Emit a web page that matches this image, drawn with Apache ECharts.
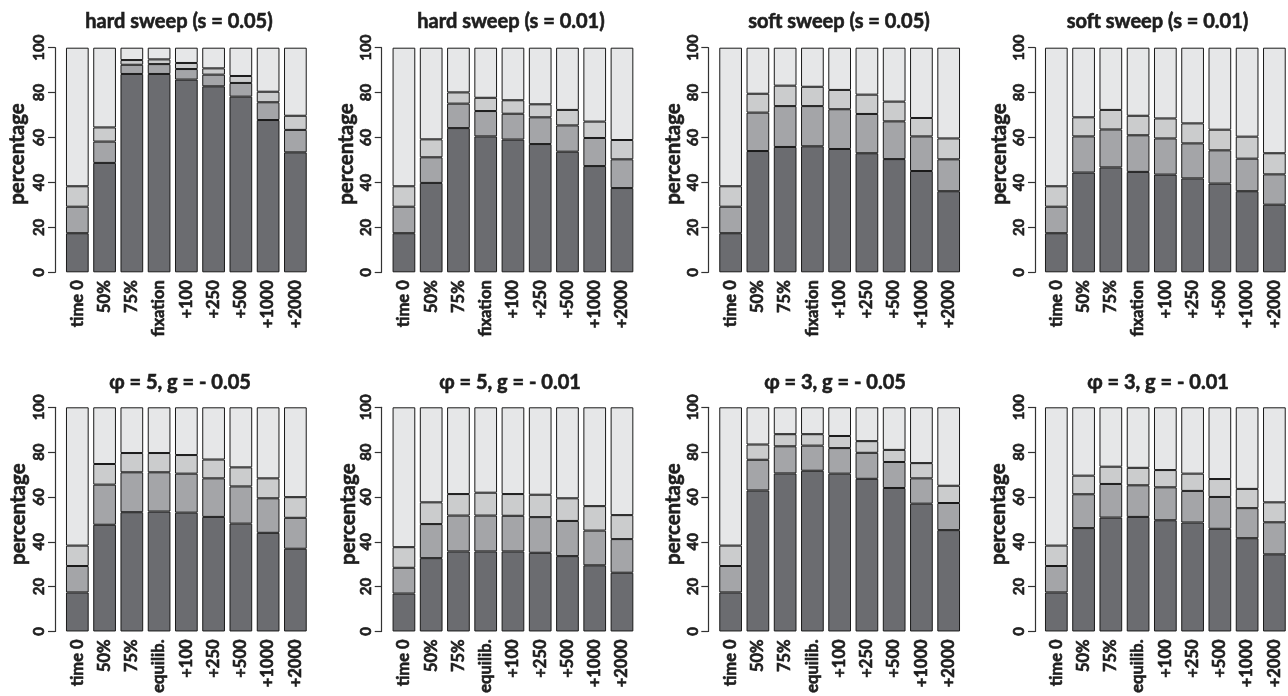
<!DOCTYPE html>
<html>
<head>
<meta charset="utf-8">
<script src="https://cdn.jsdelivr.net/npm/echarts@6/dist/echarts.min.js"></script>
<style>
html,body{margin:0;padding:0;background:#fff;}
#chart{width:1288px;height:696px;}
</style>
</head>
<body>
<div id="chart"></div>
<script>
// ---- categories ----
const catsTop = ['time 0','50%','75%','fixation','+100','+250','+500','+1000','+2000'];
const catsBottom = ['time 0','50%','75%','equilib.','+100','+250','+500','+1000','+2000'];
const yTicks = [0,20,40,60,80,100];

// ---- panel titles ----
const titles = ['hard sweep (s = 0.05)','hard sweep (s = 0.01)','soft sweep (s = 0.05)','soft sweep (s = 0.01)',
                'φ = 5, g = - 0.05','φ = 5, g = - 0.01','φ = 3, g = - 0.05','φ = 3, g = - 0.01'];

// ---- segment values (bottom to top: dark, medium, light, lightest) ----
const p1Dark  = [17.4, 48.7, 88.3, 88.3, 85.8, 82.8, 78.2, 67.8, 53.4];
const p1Med   = [11.8, 9.5, 4.1, 4.4, 4.7, 5.2, 6.1, 7.9, 10.0];
const p1Light = [9.1, 6.3, 2.1, 2.1, 2.7, 2.8, 3.1, 4.7, 6.3];
const p1Top   = [61.7, 35.5, 5.5, 5.2, 6.8, 9.2, 12.6, 19.6, 30.3];

const p2Dark  = [17.4, 39.8, 64.2, 60.5, 59.1, 57.1, 53.7, 47.3, 37.5];
const p2Med   = [11.8, 11.4, 10.9, 11.3, 11.5, 11.9, 11.7, 12.5, 12.8];
const p2Light = [9.1, 8.0, 5.0, 5.9, 6.0, 5.8, 6.9, 7.3, 8.6];
const p2Top   = [61.7, 40.8, 19.9, 22.3, 23.4, 25.2, 27.7, 32.9, 41.1];

const p3Dark  = [17.4, 54.0, 55.8, 56.1, 54.9, 53.0, 50.4, 45.1, 36.1];
const p3Med   = [11.8, 17.1, 18.2, 17.9, 17.7, 17.5, 16.8, 15.4, 14.2];
const p3Light = [9.1, 8.4, 9.1, 8.6, 8.6, 8.6, 8.8, 8.2, 9.3];
const p3Top   = [61.7, 20.5, 16.9, 17.4, 18.8, 20.9, 24.0, 31.3, 40.4];

const p4Dark  = [17.4, 44.4, 46.7, 44.7, 43.5, 41.8, 39.5, 36.1, 30.1];
const p4Med   = [11.8, 16.1, 16.9, 16.3, 16.1, 15.6, 14.8, 14.5, 13.5];
const p4Light = [9.1, 8.5, 8.7, 8.7, 8.9, 8.9, 9.2, 9.8, 9.4];
const p4Top   = [61.7, 31.0, 27.7, 30.3, 31.5, 33.7, 36.5, 39.6, 47.0];

const p5Dark  = [17.4, 47.6, 53.2, 53.5, 53.0, 51.1, 48.1, 44.0, 36.9];
const p5Med   = [11.8, 17.9, 17.8, 17.5, 17.4, 17.2, 16.6, 15.4, 13.8];
const p5Light = [9.1, 9.2, 8.6, 8.6, 8.3, 8.4, 8.5, 8.9, 9.2];
const p5Top   = [61.7, 25.3, 20.4, 20.4, 21.3, 23.3, 26.8, 31.7, 40.1];

const p6Dark  = [16.9, 32.7, 35.7, 35.7, 35.7, 35.1, 33.6, 29.5, 26.2];
const p6Med   = [11.5, 15.2, 16.0, 16.0, 15.9, 15.9, 15.7, 15.5, 15.0];
const p6Light = [9.2, 9.7, 9.6, 10.2, 9.7, 10.0, 10.1, 10.9, 10.7];
const p6Top   = [62.4, 42.4, 38.7, 38.1, 38.7, 39.0, 40.6, 44.1, 48.1];

const p7Dark  = [17.4, 62.9, 70.5, 71.7, 70.4, 68.1, 64.0, 57.0, 45.2];
const p7Med   = [11.8, 13.7, 12.1, 11.2, 11.4, 11.6, 11.6, 11.3, 12.1];
const p7Light = [9.1, 6.8, 5.4, 5.1, 5.4, 5.2, 5.4, 6.8, 7.7];
const p7Top   = [61.7, 16.6, 12.0, 12.0, 12.8, 15.1, 19.0, 24.9, 35.0];

const p8Dark  = [17.4, 46.1, 50.8, 51.1, 49.6, 48.6, 45.8, 41.6, 34.4];
const p8Med   = [11.8, 15.1, 15.0, 14.1, 14.7, 14.1, 14.2, 13.4, 14.3];
const p8Light = [9.1, 8.3, 7.7, 7.8, 7.7, 7.7, 8.0, 8.6, 8.9];
const p8Top   = [61.7, 30.5, 26.5, 27.0, 28.0, 29.6, 32.0, 36.4, 42.4];

const panels = [
  [p1Dark,p1Med,p1Light,p1Top],[p2Dark,p2Med,p2Light,p2Top],
  [p3Dark,p3Med,p3Light,p3Top],[p4Dark,p4Med,p4Light,p4Top],
  [p5Dark,p5Med,p5Light,p5Top],[p6Dark,p6Med,p6Light,p6Top],
  [p7Dark,p7Med,p7Light,p7Top],[p8Dark,p8Med,p8Light,p8Top]
];

// ---- styling / layout ----
const segColors = ['#6b6c70','#a4a5a8','#cbcccd','#e6e7e8'];
const FONT = 'Lato';
const TXT = '#1e1e1e';
const gridLefts = [63.7, 390.3, 717, 1042.7];
const gridWidth = 245.3;
const rowTops = [47.7, 407.3];
const rowHeights = [224.6, 225];
const axisOffsets = [8.7, 8.6, 8.7, 7.7];
const titleX = [179, 511, 839, 1157.5, 180, 510, 835, 1158];
const titleY = [21.7, 382.7];
const ylabX = [17, 346.7, 673.2, 999.8, 18.2, 348.2, 673.2, 998.2];
const ylabY = [154, 514.2];
const heavy = {textBorderColor: TXT, textBorderWidth: 0.6};

const grids = [], xAxes = [], yAxes = [], series = [], graphics = [];
for (let i = 0; i < 8; i++) {
  const row = Math.floor(i / 4), col = i % 4;
  grids.push({left: gridLefts[col], top: rowTops[row], width: gridWidth, height: rowHeights[row], containLabel: false});
  xAxes.push({
    type: 'category', gridIndex: i, data: row === 0 ? catsTop : catsBottom,
    axisLine: {show: false}, axisTick: {show: false}, splitLine: {show: false},
    axisLabel: Object.assign({rotate: 90, margin: 8, interval: 0, fontFamily: FONT, fontWeight: 'bold', fontSize: 16.5, color: TXT}, heavy)
  });
  yAxes.push({
    type: 'value', gridIndex: i, min: 0, max: 100, interval: 20, offset: axisOffsets[col],
    axisLine: {show: true, lineStyle: {color: '#333', width: 1.2}},
    axisTick: {show: true, length: 7, lineStyle: {color: '#333', width: 1.2}},
    splitLine: {show: false},
    axisLabel: Object.assign({rotate: 90, margin: 8, fontFamily: FONT, fontWeight: 'bold', fontSize: 15, color: TXT,
                formatter: v => yTicks.indexOf(v) >= 0 ? String(v) : ''}, heavy)
  });
  panels[i].forEach((vals, k) => {
    series.push({
      type: 'bar', xAxisIndex: i, yAxisIndex: i, stack: 'p' + i, data: vals,
      barCategoryGap: '16.67%',
      itemStyle: {color: segColors[k], borderColor: '#1a1a1a', borderWidth: 1},
      emphasis: {disabled: true}, silent: true
    });
  });
  graphics.push({
    type: 'text', x: titleX[i], y: titleY[row],
    style: {text: titles[i], fill: TXT, font: 'bold 20px ' + FONT, textAlign: 'center', textVerticalAlign: 'middle',
            stroke: TXT, lineWidth: 0.6}
  });
  graphics.push({
    type: 'text', x: ylabX[i], y: ylabY[row], rotation: Math.PI / 2,
    style: {text: 'percentage', fill: TXT, font: 'bold 20.5px ' + FONT, textAlign: 'center', textVerticalAlign: 'middle',
            stroke: TXT, lineWidth: 0.6}
  });
}

const chart = echarts.init(document.getElementById('chart'), null, {renderer: 'canvas'});
chart.setOption({
  animation: false,
  backgroundColor: '#fff',
  grid: grids, xAxis: xAxes, yAxis: yAxes, series: series, graphic: graphics
});
</script>
</body>
</html>
